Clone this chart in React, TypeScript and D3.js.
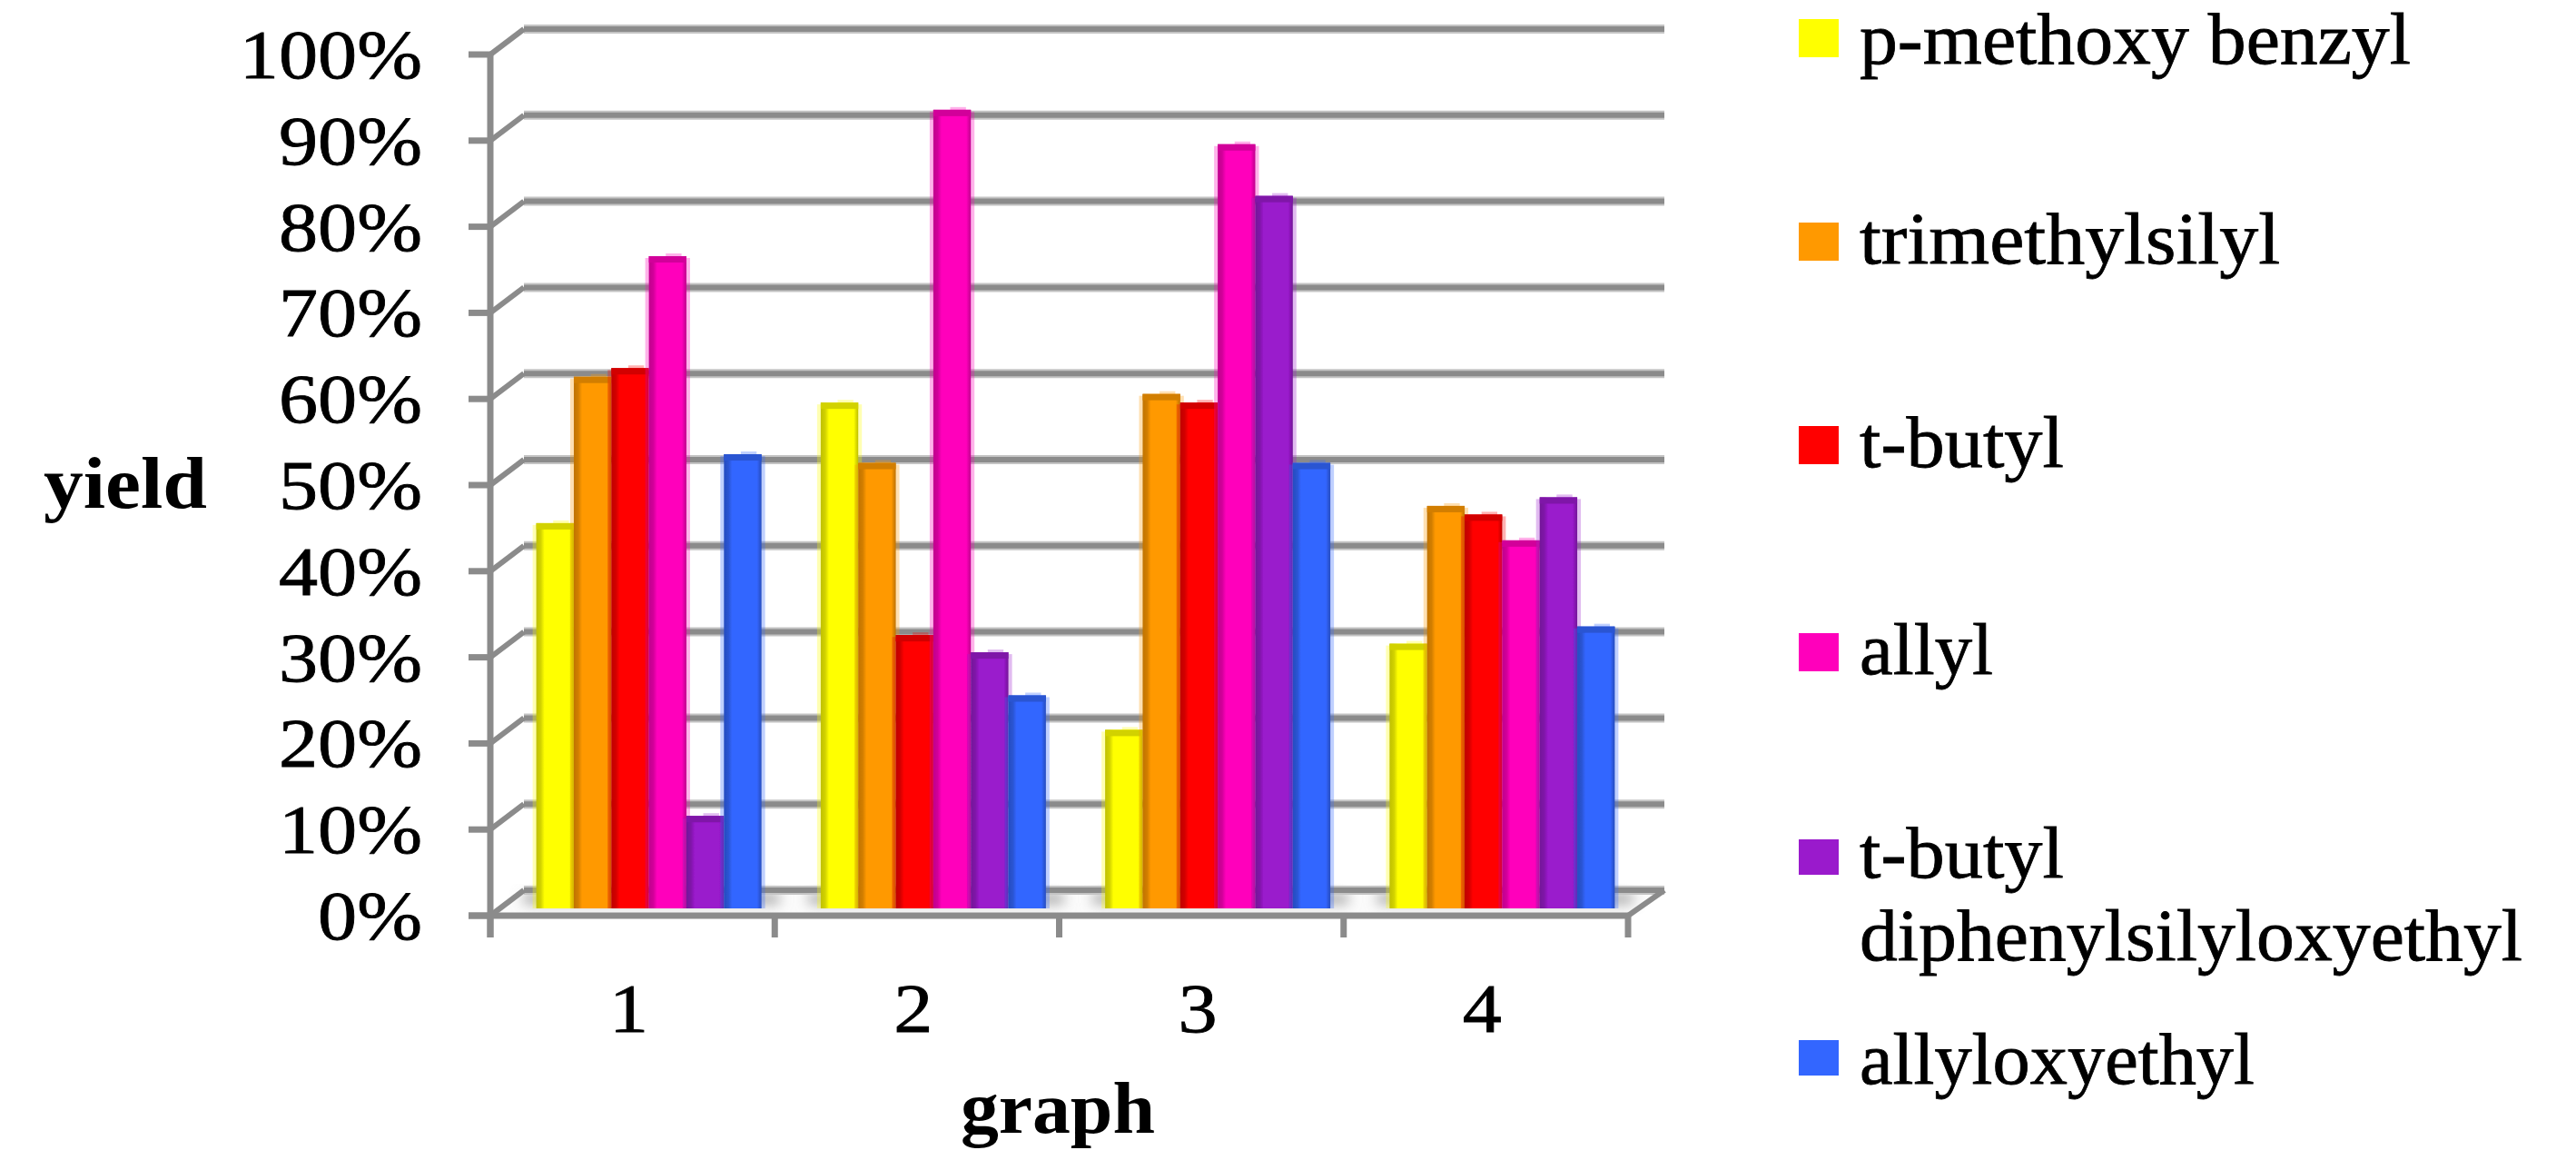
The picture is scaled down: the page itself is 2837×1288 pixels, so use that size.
import * as d3 from "d3";

const groups = ["1", "2", "3", "4"];
const seriesNames = [
  "p-methoxy benzyl",
  "trimethylsilyl",
  "t-butyl",
  "allyl",
  "t-butyl diphenylsilyloxyethyl",
  "allyloxyethyl",
];
const seriesColors = ["#ffff00", "#ff9900", "#ff0000", "#ff00bb", "#9a1acc", "#3366ff"];

const pMethoxyBenzyl = [44, 58, 20, 30];
const trimethylsilyl = [61, 51, 59, 46];
const tButyl = [62, 31, 58, 45];
const allyl = [75, 92, 88, 42];
const tButylDiphenyl = [10, 29, 82, 47];
const allyloxyethyl = [52, 24, 51, 32];
const seriesValues = [pMethoxyBenzyl, trimethylsilyl, tButyl, allyl, tButylDiphenyl, allyloxyethyl];

const yTicks = [0, 10, 20, 30, 40, 50, 60, 70, 80, 90, 100];

const legendLines = [
  { index: 0, swatchY: 21, swatchH: 42, lines: [{ text: "p-methoxy benzyl", y: 70, w: 607 }] },
  { index: 1, swatchY: 245, swatchH: 42, lines: [{ text: "trimethylsilyl", y: 290, w: 463 }] },
  { index: 2, swatchY: 469, swatchH: 42, lines: [{ text: "t-butyl", y: 514, w: 225 }] },
  { index: 3, swatchY: 697, swatchH: 42, lines: [{ text: "allyl", y: 742, w: 147 }] },
  {
    index: 4,
    swatchY: 924,
    swatchH: 39,
    lines: [
      { text: "t-butyl", y: 966, w: 225 },
      { text: "diphenylsilyloxyethyl", y: 1057, w: 730 },
    ],
  },
  { index: 5, swatchY: 1145, swatchH: 39, lines: [{ text: "allyloxyethyl", y: 1193, w: 435 }] },
];

const WIDTH = 2837;
const HEIGHT = 1288;
const LEFT = 540;
const RIGHT = 1793;
const TOP = 60;
const BOTTOM = 1008;
// depth of the fake 3d box
const DX = 37;
const DY = 28;
const BASE_LIFT = 8;
const CAP_LIFT = 7;
const CLUSTER_W = 248;
const GRID = "#8b8b8b";
const SERIF = "'Liberation Serif', serif";

const y = d3.scaleLinear().domain([0, 100]).range([BOTTOM, TOP]);
const x0 = d3.scaleBand().domain(groups).range([LEFT, RIGHT]);
const x1 = d3
  .scaleBand()
  .domain(seriesNames.map((_, i) => String(i)))
  .range([0, CLUSTER_W]);

const clusterStart = (g: string) => (x0(g) as number) + (x0.bandwidth() - CLUSTER_W) / 2 + 18;

function shade(c: string, k: number) {
  return d3.color(c)!.darker(k).formatHex();
}

export default function App() {
  const barW = x1.bandwidth();
  const baseY = y(0) - BASE_LIFT;
  return (
    <svg
      width={WIDTH}
      height={HEIGHT}
      viewBox={`0 0 ${WIDTH} ${HEIGHT}`}
      style={{ position: "absolute", left: 0, top: 0, background: "#fff", display: "block" }}
    >
      <defs>
        <filter id="soft" x="-5%" y="-5%" width="110%" height="110%">
          <feGaussianBlur stdDeviation="0.7" />
        </filter>
        <filter id="shadow" x="-30%" y="-100%" width="160%" height="300%">
          <feGaussianBlur stdDeviation="7" />
        </filter>
        {seriesColors.map((c, i) => (
          <linearGradient key={c} id={`bar-${i}`} x1="0" x2="1" y1="0" y2="0">
            <stop offset="0" stopColor={shade(c, 0.8)} />
            <stop offset="0.12" stopColor={shade(c, 0.55)} />
            <stop offset="0.22" stopColor={c} />
            <stop offset="0.88" stopColor={c} />
            <stop offset="0.96" stopColor={shade(c, 0.55)} />
            <stop offset="1" stopColor={shade(c, 0.8)} />
          </linearGradient>
        ))}
      </defs>

      <g filter="url(#soft)">
        {/* floor */}
        <polygon
          points={[
            [LEFT, y(0)],
            [LEFT + DX, y(0) - DY],
            [RIGHT + DX + 3, y(0) - DY],
            [RIGHT, y(0)],
          ]
            .map((p) => p.join(","))
            .join(" ")}
          fill="#fbfbfb"
        />
        {groups.map((g) => (
          <rect
            key={g}
            x={clusterStart(g) - 14}
            y={y(0) - DY + 4}
            width={CLUSTER_W + 34}
            height={11}
            fill="#a6a6a6"
            filter="url(#shadow)"
          />
        ))}

        {/* back wall grid lines and their side wall stubs */}
        {yTicks.map((t) => (
          <g key={t}>
            <line x1={LEFT + DX} x2={RIGHT + DX + 3} y1={y(t) - DY} y2={y(t) - DY} stroke="#c4c4c4" strokeWidth={10} />
            <line x1={LEFT + DX} x2={RIGHT + DX + 3} y1={y(t) - DY} y2={y(t) - DY} stroke={GRID} strokeWidth={6} />
            <line x1={LEFT} x2={LEFT + DX} y1={y(t)} y2={y(t) - DY} stroke={GRID} strokeWidth={6} />
            <line x1={LEFT - 24} x2={LEFT} y1={y(t)} y2={y(t)} stroke={GRID} strokeWidth={7} />
          </g>
        ))}
        <line
          x1={RIGHT}
          x2={RIGHT + DX + 3}
          y1={y(0)}
          y2={y(0) - DY}
          stroke={GRID}
          strokeWidth={6}
        />

        {/* axes */}
        <line x1={LEFT} x2={LEFT} y1={TOP - 3} y2={BOTTOM + 24} stroke={GRID} strokeWidth={7} />
        <line x1={LEFT - 24} x2={RIGHT + 3} y1={BOTTOM} y2={BOTTOM} stroke={GRID} strokeWidth={7} />
        {[...groups.map((g) => x0(g) as number), RIGHT].map((tx) => (
          <line key={tx} x1={tx} x2={tx} y1={BOTTOM} y2={BOTTOM + 24} stroke={GRID} strokeWidth={7} />
        ))}

        {/* bars */}
        {groups.map((g, gi) =>
          seriesValues.map((vals, si) => {
            const bx = clusterStart(g) + (x1(String(si)) as number);
            const top = y(vals[gi]) - BASE_LIFT - CAP_LIFT;
            const c = seriesColors[si];
            return (
              <g key={`${g}-${si}`}>
                <rect x={bx - 4} y={top + 2} width={barW + 8} height={baseY - top - 2} fill={c} opacity={0.3} />
                <rect x={bx + barW * 0.45} y={top - 3} width={barW * 0.42} height={5} fill={c} opacity={0.3} />
                <rect x={bx} y={top} width={barW} height={baseY - top} fill={`url(#bar-${si})`} />
                <rect x={bx} y={top} width={barW} height={7} fill={shade(c, 0.55)} />
              </g>
            );
          })
        )}
      </g>

      {/* y tick labels */}
      {yTicks.map((t) => (
        <text
          key={t}
          x={465}
          y={y(t) + 26}
          textAnchor="end"
          fontFamily={SERIF}
          fontSize={77}
          stroke="#000"
          strokeWidth={0.8}
          transform={`translate(465,0) scale(1.12,1) translate(-465,0)`}
        >
          {`${t}%`}
        </text>
      ))}

      {/* x tick labels */}
      {groups.map((g) => {
        const cx = (x0(g) as number) + x0.bandwidth() / 2 - 4;
        return (
          <text
            key={g}
            x={cx}
            y={1136}
            textAnchor="middle"
            fontFamily={SERIF}
            fontSize={77}
            stroke="#000"
            strokeWidth={0.8}
            transform={`translate(${cx},0) scale(1.12,1) translate(${-cx},0)`}
          >
            {g}
          </text>
        );
      })}

      {/* axis titles */}
      <text x={48} y={559} fontFamily={SERIF} fontWeight="bold" fontSize={80} textLength={180} lengthAdjust="spacingAndGlyphs">
        yield
      </text>
      <text x={1058} y={1247} fontFamily={SERIF} fontWeight="bold" fontSize={80} textLength={214} lengthAdjust="spacingAndGlyphs">
        graph
      </text>

      {/* legend */}
      {legendLines.map((l) => (
        <g key={l.index}>
          <rect x={1981} y={l.swatchY} width={44} height={l.swatchH} fill={seriesColors[l.index]} />
          {l.lines.map((line) => (
            <text
              key={line.y}
              x={2048}
              y={line.y}
              fontFamily={SERIF}
              fontSize={80}
              stroke="#000"
              strokeWidth={0.8}
              textLength={line.w}
              lengthAdjust="spacingAndGlyphs"
            >
              {line.text}
            </text>
          ))}
        </g>
      ))}
    </svg>
  );
}
